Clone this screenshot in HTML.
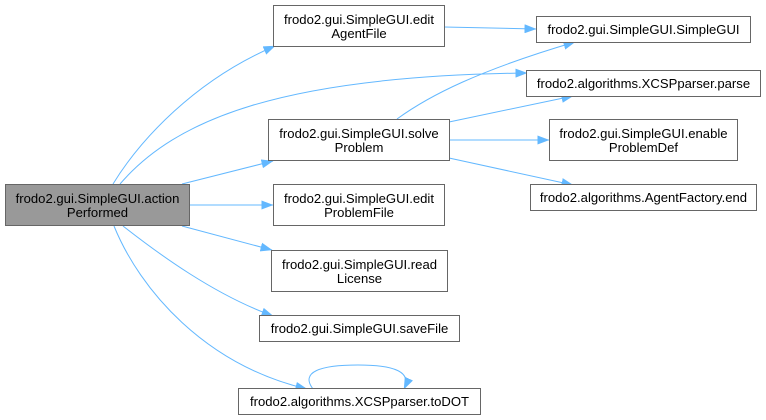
<!DOCTYPE html>
<html>
<head>
<meta charset="utf-8">
<style>
  html, body { margin:0; padding:0; background:#ffffff; }
  body { width:766px; height:420px; overflow:hidden; }
  svg { display:block; }
  text { font-family: "Liberation Sans", Arial, sans-serif; font-size:13.1px; fill:#000; }
</style>
</head>
<body>
<svg width="766" height="420" viewBox="0 0 766 420" xmlns="http://www.w3.org/2000/svg">
  <defs>
    <marker id="ah" markerUnits="userSpaceOnUse" markerWidth="12" markerHeight="9" viewBox="0 0 12 9" refX="11.5" refY="4.5" orient="auto">
      <path d="M0,0 L12,4.5 L0,9 z" fill="#63b8ff"/>
    </marker>
  </defs>

  <!-- edges -->
  <g fill="none" stroke="#63b8ff" stroke-width="1" marker-end="url(#ah)">
    <path d="M113,184 C140,140 195,80 275,46"/>
    <path d="M120,184 C175,120 280,76 527,73"/>
    <path d="M182,184 L273,161"/>
    <path d="M190,205 L273,205"/>
    <path d="M182,226 L272,250"/>
    <path d="M123,226 C160,255 215,295 273,316"/>
    <path d="M114,226 C140,290 205,365 307,389"/>
    <path d="M444,27 L536,29"/>
    <path d="M397,119 C430,95 480,70 575,42"/>
    <path d="M449,122 L573,96"/>
    <path d="M449,140 L549,140"/>
    <path d="M449,158 L573,185"/>
    <path d="M313,389 C300,372 320,365 358,365 C395,365 412,372 404,389"/>
  </g>

  <!-- nodes -->
  <g stroke="#666666" stroke-width="1">
    <rect x="5.5" y="184.5" width="184" height="41" fill="#999999"/>
    <rect x="273.5" y="5.5" width="171" height="41" fill="#ffffff"/>
    <rect x="268.5" y="119.5" width="181" height="41" fill="#ffffff"/>
    <rect x="273.5" y="184.5" width="171" height="41" fill="#ffffff"/>
    <rect x="271.5" y="250.5" width="176" height="41" fill="#ffffff"/>
    <rect x="259.5" y="315.5" width="200" height="26" fill="#ffffff"/>
    <rect x="238.5" y="388.5" width="242" height="26" fill="#ffffff"/>
    <rect x="536.5" y="16.5" width="214" height="26" fill="#ffffff"/>
    <rect x="526.5" y="70.5" width="234" height="26" fill="#ffffff"/>
    <rect x="549.5" y="119.5" width="188" height="41" fill="#ffffff"/>
    <rect x="530.5" y="184.5" width="226" height="26" fill="#ffffff"/>
  </g>

  <g text-anchor="middle">
    <text x="97.5" y="203">frodo2.gui.SimpleGUI.action</text>
    <text x="97.5" y="217">Performed</text>

    <text x="359" y="24">frodo2.gui.SimpleGUI.edit</text>
    <text x="359" y="38">AgentFile</text>

    <text x="359" y="138">frodo2.gui.SimpleGUI.solve</text>
    <text x="359" y="152">Problem</text>

    <text x="359" y="203">frodo2.gui.SimpleGUI.edit</text>
    <text x="359" y="217">ProblemFile</text>

    <text x="359.5" y="269">frodo2.gui.SimpleGUI.read</text>
    <text x="359.5" y="283">License</text>

    <text x="359.5" y="333">frodo2.gui.SimpleGUI.saveFile</text>

    <text x="359.5" y="406">frodo2.algorithms.XCSPparser.toDOT</text>

    <text x="643.5" y="34">frodo2.gui.SimpleGUI.SimpleGUI</text>

    <text x="643.5" y="88">frodo2.algorithms.XCSPparser.parse</text>

    <text x="643.5" y="138">frodo2.gui.SimpleGUI.enable</text>
    <text x="643.5" y="152">ProblemDef</text>

    <text x="643.5" y="202">frodo2.algorithms.AgentFactory.end</text>
  </g>
</svg>
</body>
</html>
